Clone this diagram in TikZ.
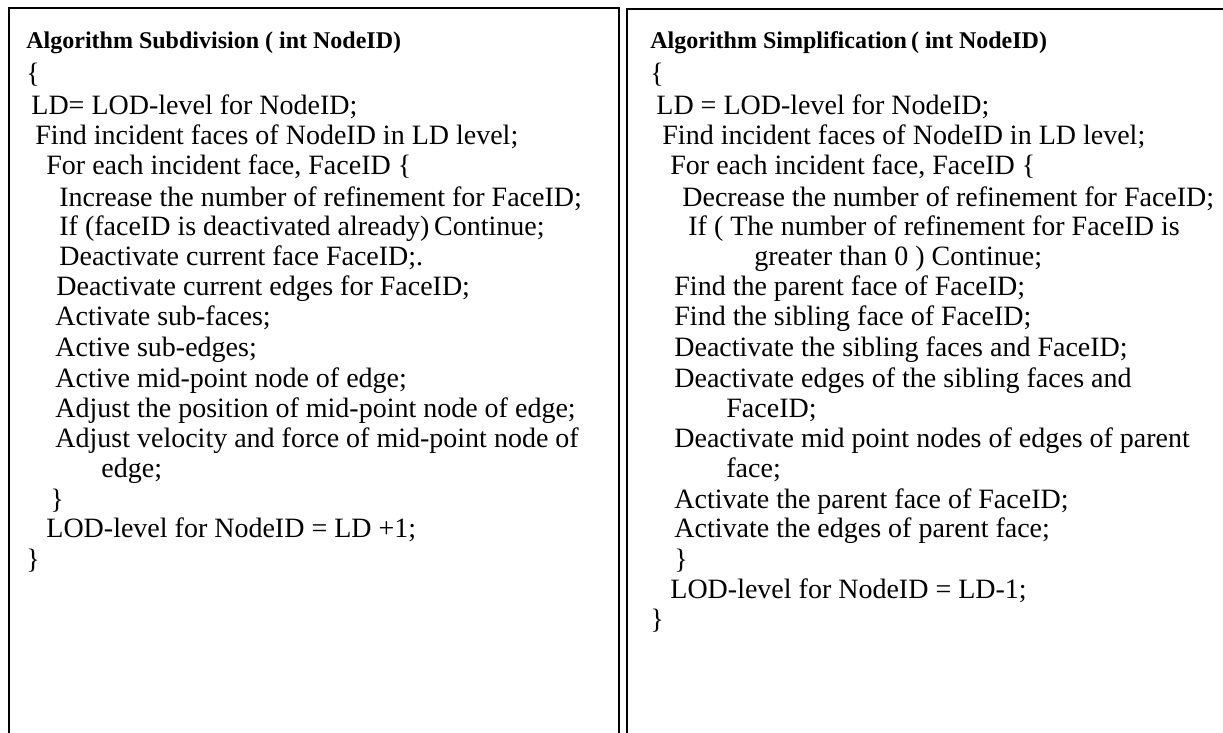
\documentclass[tikz,border=0pt]{standalone}
\usepackage{fontspec}
\setmainfont{Liberation Serif}
\begin{document}
\begin{tikzpicture}[x=0.5pt,y=-0.5pt,
    code/.style={anchor=base west,inner sep=0pt,font=\fontsize{14}{16}\selectfont},
    head/.style={anchor=base west,inner sep=0pt,font=\fontsize{12}{14}\selectfont\bfseries},
    frame/.style={line width=0.8pt}]
    \useasboundingbox (0,0) rectangle (1223,733);

    % left box
    \draw[frame] (9,733) -- (9,8) -- (619,8) -- (619,733);
    \node[head] (sub) at (26,49) {Algorithm Subdivision ( int NodeID)};
    \node[code] (l1) at (26,83) {\{};
    \node[code] (l2) at (31,115) {LD= LOD-level for NodeID;};
    \node[code] (l3) at (35,145) {Find incident faces of NodeID in LD level;};
    \node[code] (l4) at (46,175) {For each incident face, FaceID \{};
    \node[code] (l5) at (59,206) {Increase the number of refinement for FaceID;};
    \node[code] (l6) at (59,236) {If (faceID is deactivated already)\,Continue;};
    \node[code] (l7) at (59,266) {Deactivate current face FaceID;.};
    \node[code] (l8) at (56,296) {Deactivate current edges for FaceID;};
    \node[code] (l9) at (55,326) {Activate sub-faces;};
    \node[code] (l10) at (55,357) {Active sub-edges;};
    \node[code] (l11) at (55,387) {Active mid-point node of edge;};
    \node[code] (l12) at (55,417) {Adjust the position of mid-point node of edge;};
    \node[code] (l13) at (55,447) {Adjust velocity and force of mid-point node of};
    \node[code] (l14) at (101,477) {edge;};
    \node[code] (l15) at (50,508) {\}};
    \node[code] (l16) at (46,538) {LOD-level for NodeID = LD +1;};
    \node[code] (l17) at (26,568) {\}};

    % right box
    \draw[frame] (627,733) -- (627,9) -- (1223,9);
    \node[head] (simp) at (650,49) {Algorithm Simplification\,( int NodeID)};
    \node[code] (r1) at (650,83) {\{};
    \node[code] (r2) at (656,115) {LD = LOD-level for NodeID;};
    \node[code] (r3) at (662,145) {Find incident faces of NodeID in LD level;};
    \node[code] (r4) at (670,175) {For each incident face, FaceID \{};
    \node[code] (r5) at (682,206) {Decrease the number of refinement for FaceID;};
    \node[code] (r6) at (688,236) {If ( The number of refinement for FaceID is};
    \node[code] (r7) at (754,266) {greater than 0 ) Continue;};
    \node[code] (r8) at (674,296) {Find the parent face of FaceID;};
    \node[code] (r9) at (674,326) {Find the sibling face of FaceID;};
    \node[code] (r10) at (674,357) {Deactivate the sibling faces and FaceID;};
    \node[code] (r11) at (674,387) {Deactivate edges of the sibling faces and};
    \node[code] (r12) at (726,417) {FaceID;};
    \node[code] (r13) at (674,447) {Deactivate mid point nodes of edges of parent};
    \node[code] (r14) at (726,477) {face;};
    \node[code] (r15) at (674,508) {Activate the parent face of FaceID;};
    \node[code] (r16) at (674,538) {Activate the edges of parent face;};
    \node[code] (r17) at (674,568) {\}};
    \node[code] (r18) at (670,598) {LOD-level for NodeID = LD-1;};
    \node[code] (r19) at (650,628) {\}};
\end{tikzpicture}
\end{document}
